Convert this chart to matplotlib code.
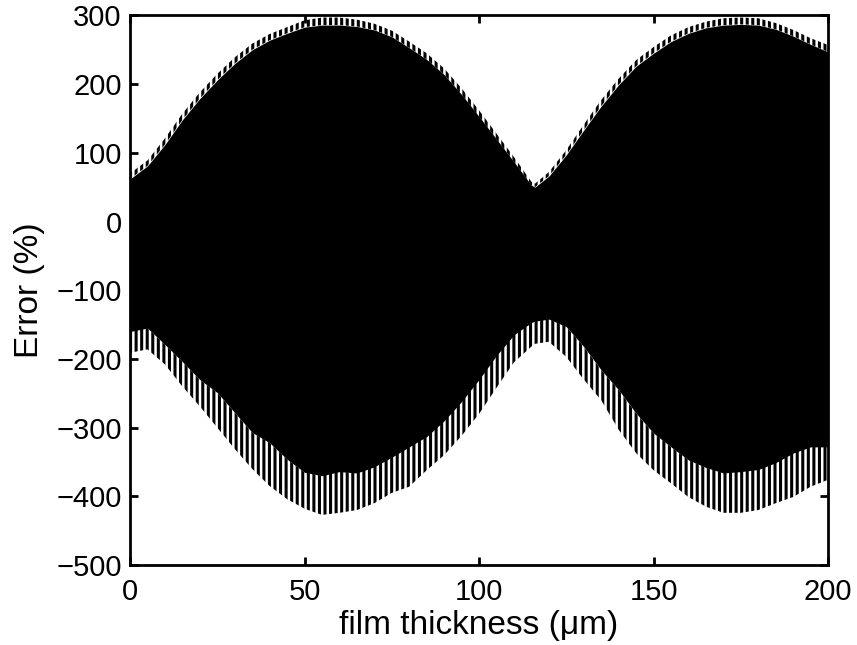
import numpy as np
import matplotlib.pyplot as plt

plt.rcParams['font.family'] = ['Liberation Sans', 'DejaVu Sans']
plt.rcParams['hatch.linewidth'] = 2.2
plt.rcParams['hatch.color'] = 'black'

## envelope of the dense oscillation
thickness = [0, 5, 10, 15, 20, 25, 30, 35, 40, 45, 50, 55, 60, 65, 70, 75, 80, 85, 90, 95,
             100, 105, 110, 115, 116, 120, 125, 130, 135, 140, 145, 150, 155, 160, 165,
             170, 175, 180, 185, 190, 195, 200]
upper_tip = [70, 89, 121, 157, 188, 215, 239, 259, 273, 283, 293, 297, 297, 294, 288, 278,
             262, 245, 223, 194, 162, 128, 94, 58, 55, 72, 104, 141, 177, 208, 235, 254,
             271, 283, 291, 296, 297, 296, 289, 279, 267, 257]
upper_edge = [62, 81, 112, 148, 179, 206, 230, 250, 264, 274, 283, 286, 286, 284, 279, 269,
              253, 236, 214, 185, 153, 120, 87, 53, 50, 66, 97, 133, 168, 199, 226, 245,
              262, 274, 282, 286, 287, 286, 280, 270, 258, 247]
lower_edge = [-160, -155, -179, -204, -230, -249, -278, -307, -322, -346, -365, -370, -364,
              -366, -357, -343, -328, -313, -290, -262, -230, -195, -165, -147, -145, -142,
              -153, -182, -216, -245, -279, -308, -328, -347, -358, -366, -364, -361, -351,
              -337, -328, -328]
lower_tip = [-191, -186, -208, -240, -269, -300, -331, -360, -385, -404, -418, -427, -424,
             -420, -410, -395, -386, -362, -340, -312, -280, -242, -205, -182, -178, -175,
             -197, -230, -260, -303, -337, -362, -381, -401, -415, -424, -424, -420, -410,
             -401, -386, -376]

fig = plt.figure(figsize=(8.57, 6.45), dpi=100)
ax = fig.add_axes([0.1517, 0.124, 0.8145, 0.852])

ax.fill_between(thickness, lower_edge, upper_edge, color='black', lw=0)
ax.fill_between(thickness, upper_edge, upper_tip, facecolor='none', edgecolor='black',
                hatch='|||', lw=0)
ax.fill_between(thickness, lower_tip, lower_edge, facecolor='none', edgecolor='black',
                hatch='|||', lw=0)

ax.set_xlim(0, 200)
ax.set_ylim(-500, 300)
ax.set_xticks(np.arange(0, 201, 50))
ax.set_yticks(np.arange(-500, 301, 100))
ax.tick_params(direction='in', length=6, width=2, top=True, right=True, labelsize=21)
ax.tick_params(axis='x', pad=9)
ax.tick_params(axis='y', pad=6)
for sp in ax.spines.values():
    sp.set_linewidth(2)

ax.set_xlabel('film thickness (\u03bcm)', fontsize=24, labelpad=3)
ax.set_ylabel('Error (%)', fontsize=24, labelpad=8)

fig.savefig('out.png', dpi=100)
